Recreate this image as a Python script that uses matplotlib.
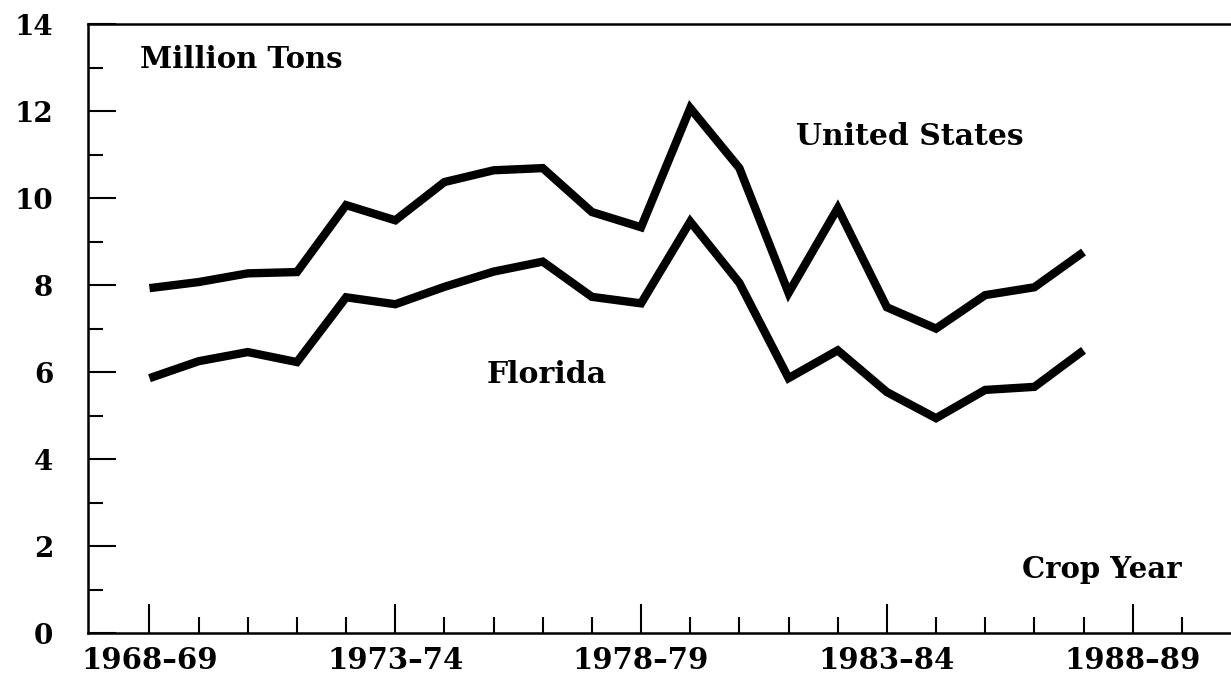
import numpy as np
import matplotlib
matplotlib.use('Agg')
import matplotlib.pyplot as plt
from matplotlib.ticker import MultipleLocator, FixedLocator

years = np.arange(1968, 1988)
us_tons = [7.93, 8.07, 8.27, 8.30, 9.84, 9.49, 10.37, 10.64, 10.69, 9.68,
           9.33, 12.07, 10.69, 7.82, 9.77, 7.49, 7.00, 7.77, 7.95, 8.76]
fl_tons = [5.86, 6.25, 6.46, 6.23, 7.72, 7.56, 7.96, 8.31, 8.54, 7.73,
           7.58, 9.46, 8.05, 5.86, 6.50, 5.54, 4.94, 5.59, 5.66, 6.50]
label_years = [1968, 1973, 1978, 1983, 1988]
tick_labels = ['1968\u201369', '1973\u201374', '1978\u201379', '1983\u201384', '1988\u201389']
minor_years = list(range(1968, 1990))

plt.rcParams['font.family'] = ['DejaVu Serif']
plt.rcParams['font.weight'] = 'bold'

fig = plt.figure(figsize=(12.31, 6.75), dpi=100)
ax = fig.add_axes([0.0715, 0.0622, 0.9285, 0.902])

ax.plot(years, us_tons, color='black', lw=6, solid_joinstyle='miter', solid_capstyle='butt')
ax.plot(years, fl_tons, color='black', lw=6, solid_joinstyle='miter', solid_capstyle='butt')

ax.set_xlim(1966.75, 1990.0)
ax.set_ylim(0, 14)

ax.xaxis.set_major_locator(FixedLocator(label_years))
ax.set_xticklabels(tick_labels)
ax.xaxis.set_minor_locator(FixedLocator(minor_years))
ax.yaxis.set_major_locator(MultipleLocator(2))
ax.yaxis.set_minor_locator(MultipleLocator(1))

ax.tick_params(axis='x', which='major', direction='in', length=21, width=1.5,
               labelsize=21, pad=9)
ax.tick_params(axis='x', which='minor', direction='in', length=11.5, width=1.5)
ax.tick_params(axis='y', which='major', direction='in', length=20, width=1.5,
               labelsize=20, pad=25)
ax.tick_params(axis='y', which='minor', direction='in', length=11, width=1.5)
for lab in ax.get_xticklabels() + ax.get_yticklabels():
    lab.set_fontweight('bold')

ax.spines['right'].set_visible(False)
for s in ['left', 'bottom', 'top']:
    ax.spines[s].set_linewidth(1.8)

ax.text(1967.8, 12.99, 'Million Tons', fontsize=21, fontweight='bold', va='baseline', ha='left')
ax.text(1981.15, 11.22, 'United States', fontsize=21.5, fontweight='bold', va='baseline', ha='left')
ax.text(1974.85, 5.75, 'Florida', fontsize=21.5, fontweight='bold', va='baseline', ha='left')
ax.text(1985.75, 1.26, 'Crop Year', fontsize=21, fontweight='bold', va='baseline', ha='left')

plt.savefig('out.png', dpi=100)
